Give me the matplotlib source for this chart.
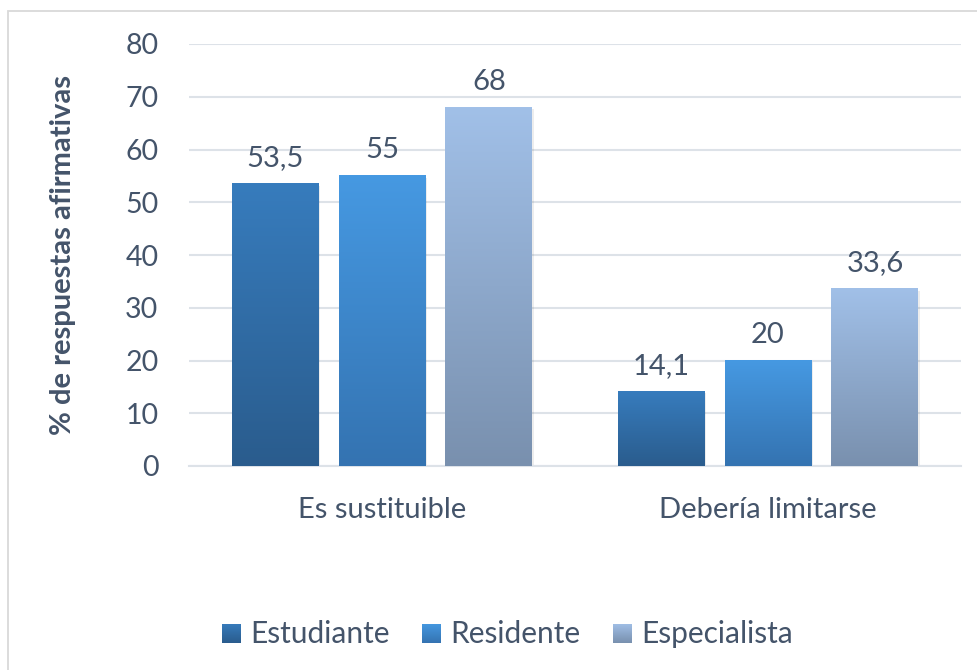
import numpy as np
import matplotlib
matplotlib.use("Agg")
import matplotlib.pyplot as plt
from matplotlib.colors import LinearSegmentedColormap
from matplotlib.patches import Rectangle

categories = ["Es sustituible", "Debería limitarse"]
series = ["Estudiante", "Residente", "Especialista"]
estudiante = [53.5, 14.1]
residente = [55, 20]
especialista = [68, 33.6]
values = [estudiante, residente, especialista]
value_labels = [["53,5", "14,1"], ["55", "20"], ["68", "33,6"]]
yticks = [0, 10, 20, 30, 40, 50, 60, 70, 80]

# gradient (top, bottom) per series
grads = [("#377CBD", "#2A5C8D"), ("#4699E2", "#3473B1"), ("#A1C0E8", "#7990AE")]
text_color = "#44546A"
grid_color = "#DDE2E8"

plt.rcParams['font.family'] = ['Lato', 'DejaVu Sans']

W, H = 977, 670
fig = plt.figure(figsize=(W / 100, H / 100), dpi=100)
fig.patch.set_facecolor("white")

# outer chart border
fig.add_artist(Rectangle((8 / W, -0.02), 1.0, (H - 11) / H + 0.02, transform=fig.transFigure,
                         fill=False, edgecolor="#D9D9D9", linewidth=1.3))

ax = fig.add_axes([189 / W, (H - 466) / H, (961 - 189) / W, (466 - 44) / H])
ax.set_xlim(-0.5, 1.5)
ax.set_ylim(0, 80)

x = np.arange(len(categories))
width = 0.225
offsets = [-0.277, 0.0, 0.277]

grad_img = np.linspace(1, 0, 256).reshape(-1, 1)
for s, (vals, off, (ctop, cbot)) in enumerate(zip(values, offsets, grads)):
    cmap = LinearSegmentedColormap.from_list(f"g{s}", [cbot, ctop])
    bars = ax.bar(x + off, vals, width, color="none", edgecolor="none", zorder=3)
    for i, b in enumerate(bars):
        bx, by = b.get_x(), b.get_y()
        bw, bh = b.get_width(), b.get_height()
        # soft shadow
        ax.add_patch(Rectangle((bx + 0.004, by - 0.35), bw, bh, facecolor="#000000",
                               alpha=0.07, edgecolor="none", zorder=2))
        ax.imshow(grad_img, cmap=cmap, extent=(bx, bx + bw, by, by + bh),
                  aspect="auto", zorder=3, interpolation="bilinear", vmin=0, vmax=1)
        ax.annotate(value_labels[s][i], (bx + bw / 2, by + bh), xytext=(0, 9),
                    textcoords="offset points", ha="center", va="bottom",
                    fontsize=21, color=text_color, zorder=5)

ax.set_xlim(-0.5, 1.5)
ax.set_ylim(0, 80)
ax.set_yticks(yticks)
ax.set_yticklabels([str(t) for t in yticks])
ax.set_xticks(x)
ax.set_xticklabels(categories)
ax.tick_params(axis="y", length=0, pad=22, labelsize=20.5, labelcolor=text_color)
ax.tick_params(axis="x", length=0, pad=22, labelsize=21, labelcolor=text_color)
ax.yaxis.grid(True, color=grid_color, linewidth=1.5, zorder=0)
ax.set_axisbelow(True)
for sp in ["top", "right", "left"]:
    ax.spines[sp].set_visible(False)
ax.spines["bottom"].set_color(grid_color)
ax.spines["bottom"].set_linewidth(1.5)

fig.text(63 / W, 1 - 255 / H, "% de respuestas afirmativas", rotation=90, ha="center",
         va="center", fontsize=21, fontweight="bold", color=text_color)

# legend (manual, with gradient swatches)
leg_sq = [222, 422, 613]
for s, (name, (ctop, cbot), sx) in enumerate(zip(series, grads, leg_sq)):
    cmap = LinearSegmentedColormap.from_list(f"l{s}", [cbot, ctop])
    lax = fig.add_axes([sx / W, 1 - 643 / H, 19 / W, 19 / H])
    lax.imshow(grad_img, cmap=cmap, aspect="auto", vmin=0, vmax=1)
    lax.axis("off")
    fig.text((sx + 28) / W, 1 - 634 / H, name, ha="left", va="center",
             fontsize=21.5, color=text_color)

fig.savefig("out.png", dpi=100, facecolor="white")
